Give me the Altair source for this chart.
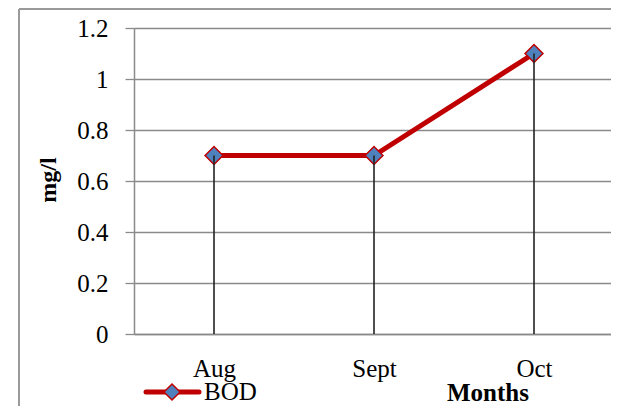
import altair as alt
import pandas as pd

months = ["Aug", "Sept", "Oct"]
bod = [0.7, 0.7, 1.1]
series_name = "BOD"
y_ticks = [0, 0.2, 0.4, 0.6, 0.8, 1.0, 1.2]
x_title = "Months"
y_title = "mg/l"

FONT = "Liberation Serif"
RED = "#C00000"
BLUE = "#4F81BD"
GRID = "#8a8a8a"

df = pd.DataFrame({"month": months, "value": bod})
one = pd.DataFrame({"series": [series_name], "xt": [x_title], "yt": [y_title]})

X = alt.X("month:N", sort=months,
          scale=alt.Scale(type="point", padding=0.5, range=[0, 480]),
          axis=alt.Axis(title=None, labelAngle=0, ticks=False, grid=False,
                        domainColor=GRID, domainWidth=1.5,
                        labelFont=FONT, labelFontSize=25, labelColor="black",
                        labelPadding=22))
Y = alt.Y("value:Q", scale=alt.Scale(domain=[0, 1.2], nice=False, zero=True),
          axis=alt.Axis(title=None, values=y_ticks, format="~g", grid=True,
                        gridColor=GRID, gridWidth=1.3, domainColor=GRID,
                        domainWidth=1.5, tickColor=GRID, tickWidth=1.3,
                        tickSize=9, labelFont=FONT, labelFontSize=25,
                        labelColor="black", labelPadding=17))

base = alt.Chart(df)
line = base.mark_line(color=RED, strokeWidth=5).encode(x=X, y=Y)
pts = base.mark_point(shape="diamond", filled=True, fill=BLUE, stroke=RED,
                      strokeWidth=1.5, size=320, opacity=1).encode(x=X, y=Y)
drops = base.mark_rule(color="#222222", strokeWidth=1.6).encode(
    x=X, y=Y, y2=alt.datum(0))

deco = alt.Chart(one)
border_left = deco.mark_rule(color="#9a9a9a", strokeWidth=2).encode(
    x=alt.value(-115), y=alt.value(-19), y2=alt.value(400))
border_top = deco.mark_rule(color="#9a9a9a", strokeWidth=2).encode(
    x=alt.value(-115), x2=alt.value(490), y=alt.value(-19))

leg_line = deco.mark_rule(color=RED, strokeWidth=5, strokeCap="round").encode(
    x=alt.value(12), x2=alt.value(65), y=alt.value(364))
leg_pt = deco.mark_point(shape="diamond", filled=True, fill=BLUE, stroke=RED,
                         strokeWidth=1.5, size=260, opacity=1).encode(
    x=alt.value(38), y=alt.value(364))
leg_txt = deco.mark_text(align="left", baseline="alphabetic", font=FONT,
                         fontSize=25, color="black").encode(
    x=alt.value(70), y=alt.value(372), text="series:N")

xtitle = deco.mark_text(align="center", baseline="alphabetic", font=FONT,
                        fontSize=25, fontWeight="bold", color="black").encode(
    x=alt.value(354), y=alt.value(373), text="xt:N")
ytitle = deco.mark_text(align="center", baseline="alphabetic", font=FONT,
                        fontSize=24, fontWeight="bold", color="black",
                        angle=270).encode(
    x=alt.value(-78), y=alt.value(152), text="yt:N")

chart = alt.layer(
    border_left, border_top, line, pts, drops,
    leg_line, leg_pt, leg_txt, xtitle, ytitle
).properties(
    width=477, height=306,
    autosize=alt.AutoSizeParams(type="none"),
    padding={"left": 126, "top": 20, "right": 0, "bottom": 72},
    background="white",
).configure_view(stroke=None)

chart.save("out.html", embed_options={"renderer": "svg", "actions": False})
